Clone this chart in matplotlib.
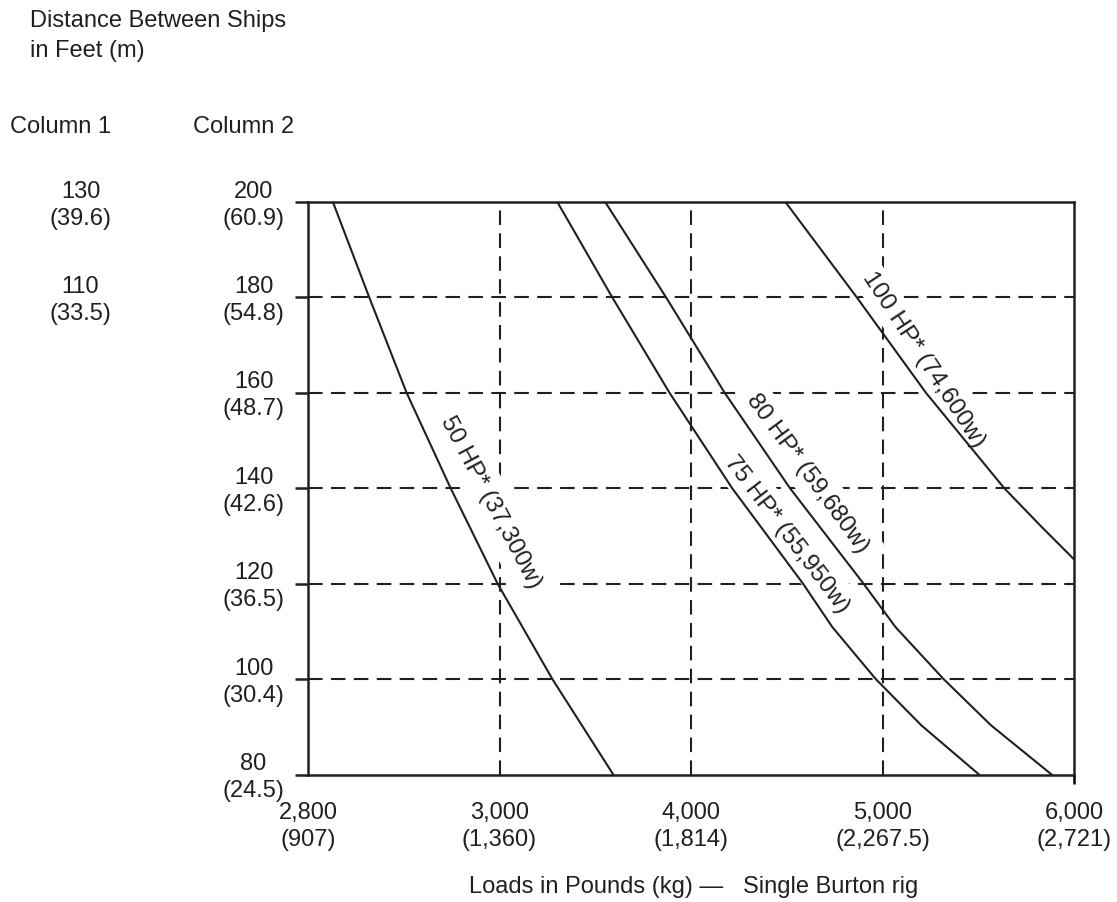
import numpy as np
import matplotlib
matplotlib.use("Agg")
import matplotlib.pyplot as plt
import matplotlib.transforms as mtransforms

plt.rcParams['font.family'] = ['Liberation Sans', 'DejaVu Sans']

# ---- data ----
load_ticks = [2800, 3000, 4000, 5000, 6000]
load_kg = ["(907)", "(1,360)", "(1,814)", "(2,267.5)", "(2,721)"]
dist_ticks = [80, 100, 120, 140, 160, 180, 200]
dist_m = ["(24.5)", "(30.4)", "(36.5)", "(42.6)", "(48.7)", "(54.8)", "(60.9)"]
col1_dist = [200, 180]
col1_labels = ["130\n(39.6)", "110\n(33.5)"]

hp50_load = [2826, 2864, 2903, 2949, 2998, 3276, 3594]
hp50_dist = [200, 180, 160, 140, 120, 100, 80]
hp75_load = [3302, 3589, 3888, 4215, 4585, 4738, 4965, 5203, 5504]
hp75_dist = [200, 180, 160, 140, 120, 110.9, 100, 90.3, 80]
hp80_load = [3552, 3870, 4176, 4517, 4901, 5068, 5319, 5567, 5883]
hp80_dist = [200, 180, 160, 140, 120, 110.9, 100, 90.3, 80]
hp100_load = [4493, 4866, 5227, 5636, 5831, 6000]
hp100_dist = [200, 180, 160, 140, 131.9, 125.1]

curve_labels = ["50 HP* (37,300w)", "75 HP* (55,950w)", "80 HP* (59,680w)", "100 HP* (74,600w)"]
label_load = [2991, 4499, 4609, 5214]
label_dist = [137.2, 130.6, 143.3, 167.2]
label_rot = [-62, -52.7, -53.7, -56.7]
label_pad = [7, 6, 6, 4]

INK = "#231f20"
FS = 17
LFS = 17.5

fig = plt.figure(figsize=(11.17, 9.03), dpi=100)
W, H = 1117, 903
ax = fig.add_axes([308/W, 1-775.5/H, (1074-308)/W, (775.5-203)/H])

pos_idx = np.arange(len(load_ticks), dtype=float)
def fwd(x):
    return np.interp(x, load_ticks, pos_idx)
def inv(p):
    return np.interp(p, pos_idx, load_ticks)
ax.set_xscale('function', functions=(fwd, inv))
ax.set_xlim(load_ticks[0], load_ticks[-1])
ax.set_ylim(dist_ticks[0], dist_ticks[-1])

dash = (0, (7, 4))
for y in dist_ticks[1:-1]:
    ax.axhline(y, color=INK, lw=1.5, linestyle=dash, zorder=1)
for x in load_ticks[1:-1]:
    ax.axvline(x, color=INK, lw=1.5, linestyle=dash, zorder=1)

for xs, ys in [(hp50_load, hp50_dist), (hp75_load, hp75_dist),
               (hp80_load, hp80_dist), (hp100_load, hp100_dist)]:
    ax.plot(xs, ys, color=INK, lw=1.5, zorder=3, solid_joinstyle='round')

for t, x, y, r, p in zip(curve_labels, label_load, label_dist, label_rot, label_pad):
    ax.text(x, y, t, rotation=r, rotation_mode='anchor', ha='center', va='center',
            fontsize=LFS, color=INK, zorder=2,
            bbox=dict(facecolor='white', edgecolor='none', pad=p))

for s in ax.spines.values():
    s.set_color(INK)
    s.set_linewidth(1.8)

up = mtransforms.ScaledTranslation(0, 3/100, fig.dpi_scale_trans)
tr = mtransforms.blended_transform_factory(fig.transFigure, ax.transData) + up

ax.set_yticks(dist_ticks)
ax.tick_params(axis='y', length=9.5, width=1.8, color=INK, labelleft=False)
for v, m in zip(dist_ticks, dist_m):
    fig.text(253.5/W, v, f"{v}\n{m}", transform=tr, fontsize=FS, color=INK, ha='center',
             va='center_baseline', multialignment='center', linespacing=1.3)

ax.set_xticks(load_ticks)
ax.set_xticklabels([f"{v:,}\n{k}" for v, k in zip(load_ticks, load_kg)], fontsize=FS, color=INK)
for lab in ax.get_xticklabels():
    lab.set_linespacing(1.3)
ax.tick_params(axis='x', length=0, pad=19)
ax.minorticks_off()
lt = ax.xaxis.get_major_ticks()[-1]
lt.tick1line.set_markersize(6.5)
lt.tick1line.set_markeredgewidth(1.8)
lt.tick1line.set_color(INK)

fig.text(694/W, 1-893/H, "Loads in Pounds (kg) \u2014   Single Burton rig", fontsize=FS, color=INK,
         ha='center', va='baseline')

fig.text(30/W, 1-27.3/H, "Distance Between Ships", fontsize=FS, color=INK, ha='left', va='baseline')
fig.text(30/W, 1-57/H, "in Feet (m)", fontsize=FS, color=INK, ha='left', va='baseline')
fig.text(10/W, 1-133.3/H, "Column 1", fontsize=FS, color=INK, ha='left', va='baseline')
fig.text(193/W, 1-133.3/H, "Column 2", fontsize=FS, color=INK, ha='left', va='baseline')

for y, t in zip(col1_dist, col1_labels):
    fig.text(80.5/W, y, t, transform=tr, fontsize=FS, color=INK, ha='center', va='center_baseline',
             multialignment='center', linespacing=1.3)

fig.savefig("out.png", dpi=100)
